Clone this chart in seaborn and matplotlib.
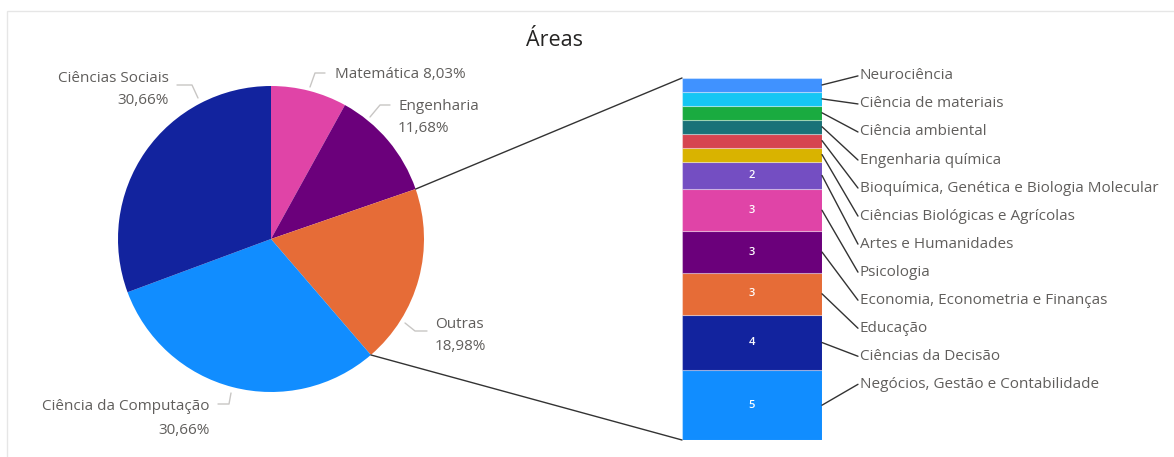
import numpy as np
import matplotlib
matplotlib.use('Agg')
import matplotlib.pyplot as plt
import seaborn as sns
from matplotlib.patches import ConnectionPatch, Rectangle

# Pie data
areas = ['Matemática', 'Engenharia', 'Outras', 'Ciência da Computação', 'Ciências Sociais']
area_counts = [11, 16, 26, 42, 42]
area_colors = ['#E044A7', '#6B007B', '#E66C37', '#118DFF', '#12239E']

# "Outras" breakdown, bottom to top
outras_labels = ['Negócios, Gestão e Contabilidade', 'Ciências da Decisão', 'Educação',
                 'Economia, Econometria e Finanças', 'Psicologia', 'Artes e Humanidades',
                 'Ciências Biológicas e Agrícolas', 'Bioquímica, Genética e Biologia Molecular',
                 'Engenharia química', 'Ciência ambiental', 'Ciência de materiais', 'Neurociência']
outras_counts = [5, 4, 3, 3, 3, 2, 1, 1, 1, 1, 1, 1]
outras_colors = ['#118DFF', '#12239E', '#E66C37', '#6B007B', '#E044A7', '#744EC2',
                 '#D9B300', '#D64550', '#197278', '#1AAB40', '#15C6F4', '#4092FF']

sns.set_theme(style='white')
plt.rcParams['font.family'] = ['Open Sans', 'DejaVu Sans']

W, H = 1174, 457
fig = plt.figure(figsize=(W / 100, H / 100), dpi=100)
fig.patches.append(Rectangle((7 / W, -0.1), 1.2, 1 - 11 / H + 0.1, transform=fig.transFigure,
                             fill=False, edgecolor='#E6E6E6', lw=1))

# pie axes in pixel units (y up)
ax = fig.add_axes([0, 0, 1, 1])
cx, cy, R = 271, H - 239, 153
ax.pie(area_counts, colors=area_colors, startangle=90, counterclock=False,
       radius=R, center=(cx, cy), frame=True, wedgeprops={'linewidth': 0, 'edgecolor': 'none'})
ax.set_xlim(0, W)
ax.set_ylim(0, H)
ax.axis('off')

total = sum(area_counts)
pct = [f'{100 * c / total:.2f}'.replace('.', ',') + '%' for c in area_counts]

text_col = '#605E5C'
lead_col = '#C8C6C4'
fs = 11
# leader points (px from top), text position, alignment, two lines
pie_labels = [
    ([(310, 87), (315, 73), (325, 73)], (335, 74), 'left', False),
    ([(370, 117), (380, 105), (390, 105)], (398, 106), 'left', True),
    ([(405, 323), (415, 331), (427, 331)], (435, 324), 'left', True),
    ([(231, 393), (229, 404), (218, 404)], (210, 407), 'right', True),
    ([(198, 98), (192, 85), (177, 85)], (169, 78), 'right', True),
]
for (pts, tpos, ha, two), name, p in zip(pie_labels, areas, pct):
    xs = [q[0] for q in pts]
    ys = [H - q[1] for q in pts]
    ax.plot(xs, ys, color=lead_col, lw=1)
    if two:
        ax.text(tpos[0], H - tpos[1], name, ha=ha, va='center', fontsize=fs, color=text_col)
        ax.text(tpos[0], H - tpos[1] - 23, p, ha=ha, va='center', fontsize=fs, color=text_col)
    else:
        ax.text(tpos[0], H - tpos[1], f'{name} {p}', ha=ha, va='center', fontsize=fs, color=text_col)

# stacked bar for "Outras"
bx = fig.add_axes([682 / W, (H - 440) / H, 140 / W, 362 / H])
bottoms = np.concatenate([[0], np.cumsum(outras_counts)[:-1]])
bx.bar([0] * len(outras_counts), outras_counts, bottom=bottoms, width=1,
       color=outras_colors, edgecolor=(1, 1, 1, 0.35), linewidth=0.8)
bx.set_xlim(-0.5, 0.5)
bx.set_ylim(0, sum(outras_counts))
bx.axis('off')

for b, c in zip(bottoms, outras_counts):
    if c > 1:
        bx.text(0, b + c / 2, str(c), ha='center', va='center', color='white',
                fontsize=8, fontweight='semibold')

label_y = np.linspace(26.15, 4.0, len(outras_labels))
for i, (lab, b, c) in enumerate(zip(outras_labels[::-1], bottoms[::-1], outras_counts[::-1])):
    bx.plot([0.5, 0.757], [b + c / 2, label_y[i]], color='#333333', lw=1, clip_on=False)
    bx.text(0.771, label_y[i], lab, ha='left', va='center', fontsize=fs, color=text_col)

# connector lines from the "Outras" slice to the bar
fr = np.cumsum(area_counts) / total
for f, yb in [(fr[1], sum(outras_counts)), (fr[2], 0)]:
    ang = np.deg2rad(90 - 360 * f)
    con = ConnectionPatch(xyA=(cx + R * np.cos(ang), cy + R * np.sin(ang)), coordsA=ax.transData,
                          xyB=(-0.5, yb), coordsB=bx.transData, color='#333333', lw=1)
    fig.add_artist(con)

fig.text(555 / W, 1 - 40 / H, 'Áreas', ha='center', va='center', fontsize=15.5, color='#252423')

fig.savefig('out.png', dpi=100)
